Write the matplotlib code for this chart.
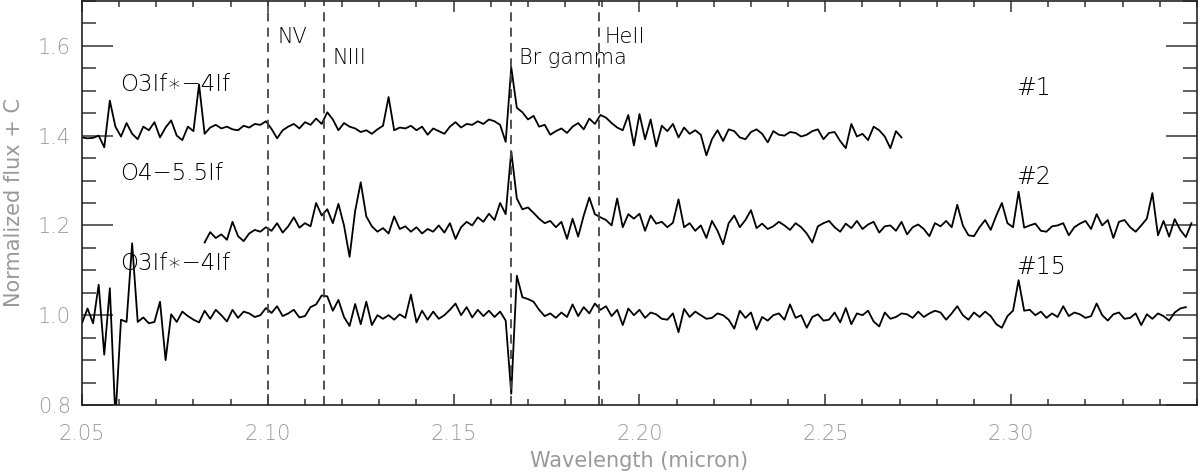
#!/usr/bin/env python3
"""
K-band spectra of three stars, stacked with a constant offset.

Output:
- out.png
"""

import numpy as np
import matplotlib

matplotlib.use("Agg")
import matplotlib.pyplot as plt
from matplotlib.ticker import MultipleLocator, FixedLocator

STEP = 0.0015  # micron per sample, all three spectra

# star #1 (offset C = 0.4 already included)
start_1 = 2.0500
flux_1 = [
    1.396, 1.394, 1.395, 1.400, 1.374, 1.478, 1.420, 1.398, 1.428, 1.404,
    1.392, 1.420, 1.412, 1.430, 1.396, 1.418, 1.434, 1.400, 1.390, 1.420,
    1.410, 1.514, 1.404, 1.418, 1.424, 1.416, 1.420, 1.414, 1.412, 1.422,
    1.418, 1.426, 1.424, 1.432, 1.415, 1.394, 1.412, 1.420, 1.426, 1.416,
    1.430, 1.424, 1.438, 1.426, 1.452, 1.436, 1.412, 1.428, 1.420, 1.416,
    1.408, 1.412, 1.404, 1.414, 1.422, 1.486, 1.412, 1.418, 1.416, 1.422,
    1.412, 1.420, 1.402, 1.416, 1.410, 1.404, 1.420, 1.430, 1.418, 1.426,
    1.424, 1.432, 1.426, 1.436, 1.432, 1.424, 1.386, 1.552, 1.462, 1.452,
    1.436, 1.444, 1.420, 1.424, 1.402, 1.410, 1.416, 1.406, 1.420, 1.428,
    1.414, 1.438, 1.426, 1.446, 1.440, 1.428, 1.418, 1.412, 1.446, 1.378,
    1.448, 1.392, 1.436, 1.376, 1.422, 1.410, 1.426, 1.396, 1.418, 1.404,
    1.412, 1.402, 1.356, 1.392, 1.412, 1.388, 1.414, 1.410, 1.396, 1.392,
    1.408, 1.414, 1.404, 1.385, 1.410, 1.402, 1.400, 1.408, 1.406, 1.398,
    1.402, 1.410, 1.414, 1.392, 1.406, 1.408, 1.388, 1.372, 1.426, 1.398,
    1.404, 1.390, 1.420, 1.412, 1.398, 1.372, 1.410, 1.396,
]

# star #2 (offset C = 0.2 already included)
start_2 = 2.0830
flux_2 = [
    1.162, 1.185, 1.172, 1.180, 1.168, 1.208, 1.176, 1.165, 1.182, 1.190,
    1.186, 1.196, 1.188, 1.205, 1.184, 1.198, 1.218, 1.195, 1.205, 1.198,
    1.250, 1.222, 1.236, 1.205, 1.248, 1.200, 1.130, 1.232, 1.296, 1.220,
    1.198, 1.186, 1.194, 1.182, 1.220, 1.192, 1.198, 1.186, 1.196, 1.182,
    1.192, 1.186, 1.200, 1.184, 1.205, 1.170, 1.196, 1.208, 1.200, 1.218,
    1.208, 1.226, 1.212, 1.250, 1.225, 1.365, 1.260, 1.236, 1.240, 1.228,
    1.215, 1.205, 1.210, 1.196, 1.208, 1.170, 1.215, 1.175, 1.222, 1.262,
    1.225, 1.218, 1.212, 1.200, 1.260, 1.196, 1.225, 1.215, 1.226, 1.188,
    1.222, 1.204, 1.208, 1.196, 1.206, 1.258, 1.196, 1.205, 1.188, 1.200,
    1.172, 1.210, 1.188, 1.158, 1.205, 1.222, 1.196, 1.212, 1.234, 1.194,
    1.204, 1.192, 1.198, 1.208, 1.200, 1.190, 1.205, 1.196, 1.182, 1.162,
    1.198, 1.205, 1.210, 1.196, 1.186, 1.204, 1.194, 1.210, 1.192, 1.202,
    1.208, 1.184, 1.198, 1.200, 1.188, 1.208, 1.180, 1.196, 1.202, 1.192,
    1.176, 1.205, 1.198, 1.210, 1.196, 1.246, 1.200, 1.178, 1.176, 1.196,
    1.212, 1.190, 1.222, 1.250, 1.205, 1.196, 1.275, 1.195, 1.200, 1.204,
    1.188, 1.186, 1.198, 1.200, 1.205, 1.178, 1.196, 1.204, 1.210, 1.192,
    1.225, 1.200, 1.212, 1.172, 1.208, 1.212, 1.196, 1.186, 1.200, 1.215,
    1.272, 1.178, 1.210, 1.175, 1.214, 1.190, 1.174, 1.205,
]

# star #15 (offset C = 0)
start_3 = 2.0500
flux_3 = [
    0.982, 1.015, 0.982, 1.068, 0.912, 1.060, 0.770, 0.990, 0.985, 1.160,
    0.985, 0.995, 0.982, 0.985, 1.030, 0.900, 1.002, 0.985, 1.008, 0.998,
    0.990, 0.984, 1.010, 0.992, 1.012, 1.000, 0.986, 1.012, 0.994, 1.008,
    1.004, 0.996, 1.000, 1.016, 1.005, 1.020, 0.998, 1.004, 1.012, 0.995,
    0.998, 1.018, 1.024, 1.044, 1.042, 1.010, 1.034, 0.996, 0.976, 1.025,
    0.980, 1.030, 0.978, 1.000, 0.992, 1.000, 0.990, 1.002, 0.994, 1.046,
    0.984, 1.010, 0.990, 1.008, 0.992, 1.000, 1.012, 1.026, 1.000, 1.018,
    0.995, 1.012, 0.998, 1.010, 0.996, 1.008, 0.988, 0.825, 1.088, 1.040,
    1.036, 1.030, 1.012, 0.998, 1.004, 0.994, 1.006, 0.996, 1.024, 0.998,
    1.018, 1.004, 1.026, 1.012, 1.020, 0.998, 1.012, 0.978, 1.015, 1.000,
    1.012, 0.994, 1.006, 1.002, 0.992, 0.990, 1.004, 0.962, 1.014, 0.996,
    1.008, 1.000, 0.992, 0.994, 1.004, 1.000, 0.990, 0.970, 1.010, 0.994,
    1.006, 0.968, 0.996, 0.988, 1.000, 1.004, 0.990, 1.024, 0.994, 1.000,
    0.972, 0.996, 1.002, 0.988, 0.990, 1.006, 0.984, 1.016, 0.980, 1.004,
    1.000, 1.010, 0.986, 0.975, 1.006, 0.992, 0.996, 1.004, 1.002, 0.994,
    1.008, 0.996, 1.004, 1.010, 1.006, 0.990, 1.004, 1.020, 1.000, 0.990,
    1.006, 0.996, 1.008, 0.998, 0.980, 0.972, 0.998, 1.010, 1.078, 1.010,
    1.012, 1.000, 1.008, 0.994, 1.004, 0.996, 1.020, 0.998, 1.006, 1.002,
    0.994, 0.998, 1.026, 1.000, 0.988, 1.002, 1.006, 0.992, 0.994, 1.004,
    0.978, 1.002, 0.992, 1.004, 0.998, 0.988, 1.006, 1.015, 1.018,
]

# line identifications: wavelength of the dashed marker, label, label position
line_wl = [2.1000, 2.1150, 2.1655, 2.1890]
line_names = ["NV", "NIII", "Br gamma", "HeII"]
line_label_x = [2.1026, 2.1175, 2.1677, 2.1906]
line_label_y = [1.620, 1.573, 1.573, 1.620]

# spectral types (left) and star ids (right)
sptypes = ["O3If\u2217\u22124If", "O4\u22125.5If", "O3If\u2217\u22124If"]
star_ids = ["#1", "#2", "#15"]
label_y = [1.515, 1.315, 1.115]

FONT = ["DejaVu Sans"]
WEIGHT = 200
GREY = "#999999"
INK = "#000000"


def wavelengths(start, flux):
    return start + STEP * np.arange(len(flux))


def render(out_path):
    plt.rcParams["font.family"] = FONT
    plt.rcParams["font.weight"] = WEIGHT
    fig = plt.figure(figsize=(12, 4.75), dpi=100)
    ax = fig.add_axes([0.0683, 0.1474, 0.9292, 0.8506])

    for start, flux in [(start_1, flux_1), (start_2, flux_2), (start_3, flux_3)]:
        ax.plot(wavelengths(start, flux), flux, color="black", linewidth=1.3)

    for wl in line_wl:
        ax.axvline(wl, color="#444444", linestyle=(0, (5, 3.5)), linewidth=1.3)
    for x, y, name in zip(line_label_x, line_label_y, line_names):
        ax.text(x, y, name, fontsize=15, va="center", ha="left", color=INK)

    for y, sp, sid in zip(label_y, sptypes, star_ids):
        ax.text(2.0603, y, sp, fontsize=16.5, va="center", ha="left", color=INK)
        ax.text(2.3013, y - 0.008, sid, fontsize=17, va="center", ha="left", color=INK)

    ax.set_xlim(2.05, 2.35)
    ax.set_ylim(0.8, 1.7)
    ax.xaxis.set_major_locator(FixedLocator([2.05, 2.10, 2.15, 2.20, 2.25, 2.30]))
    ax.xaxis.set_minor_locator(MultipleLocator(0.01))
    ax.yaxis.set_major_locator(FixedLocator([0.8, 1.0, 1.2, 1.4, 1.6]))
    ax.yaxis.set_minor_locator(MultipleLocator(0.05))
    ax.xaxis.set_major_formatter(plt.FuncFormatter(lambda v, p: f"{v:.2f}"))
    ax.yaxis.set_major_formatter(plt.FuncFormatter(lambda v, p: f"{v:.1f}"))

    ax.tick_params(axis="both", which="both", direction="in", top=True, right=True,
                   color="#444444", labelcolor=GREY, labelsize=15)
    ax.tick_params(axis="y", which="major", length=22, width=1.2, pad=8)
    ax.tick_params(axis="y", which="minor", length=10, width=1.2)
    ax.tick_params(axis="x", which="major", length=8, width=1.2, pad=14)
    ax.tick_params(axis="x", which="minor", length=4, width=1.2)
    for side in ax.spines.values():
        side.set_color("#222222")
        side.set_linewidth(1.2)

    ax.set_xlabel("Wavelength (micron)", fontsize=15, color=GREY, labelpad=5)
    ax.set_ylabel("Normalized flux + C", fontsize=15, color=GREY, labelpad=10)

    fig.savefig(out_path, dpi=100)
    plt.close(fig)


def main():
    render("out.png")
    return 0


if __name__ == "__main__":
    raise SystemExit(main())
